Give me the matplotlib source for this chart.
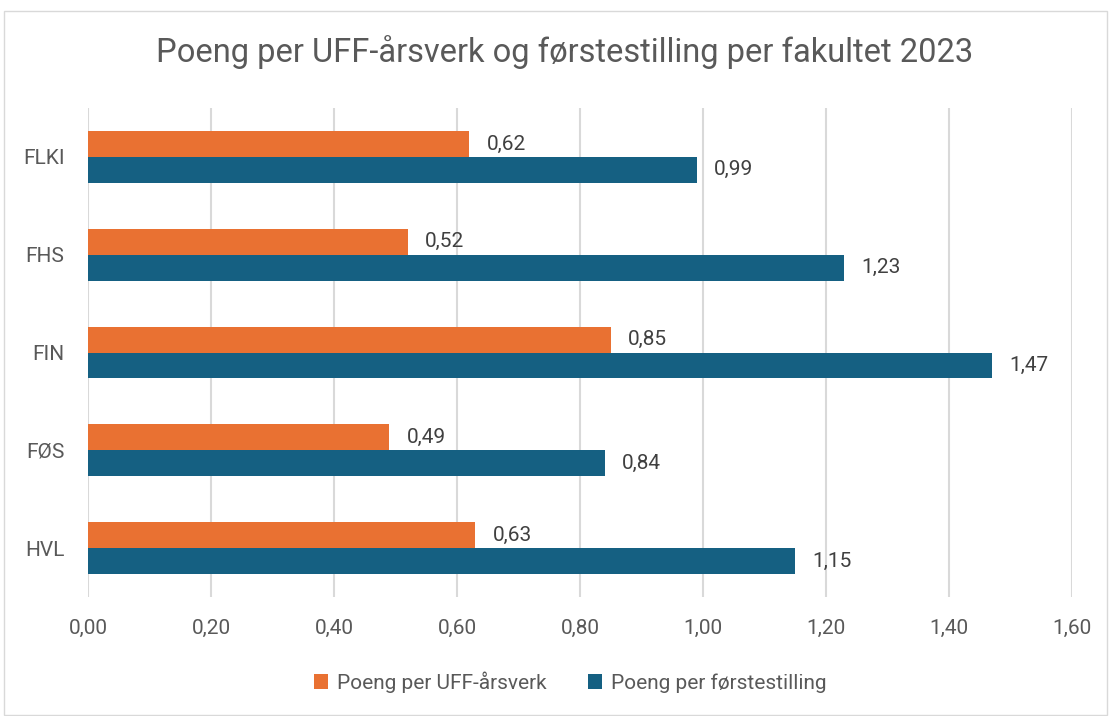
import numpy as np
import matplotlib
matplotlib.use("Agg")
from matplotlib import pyplot as plt
from matplotlib.patches import Rectangle

plt.rcParams['font.family'] = ['Roboto', 'DejaVu Sans']

# data
fakultet = ['FLKI', 'FHS', 'FIN', 'FØS', 'HVL']
uff = [0.62, 0.52, 0.85, 0.49, 0.63]
forste = [0.99, 1.23, 1.47, 0.84, 1.15]

orange = '#E97132'
blue = '#156082'
txt = '#595959'

fig = plt.figure(figsize=(11.11, 7.16), dpi=100)
ax = fig.add_axes([88/1111, 1-597/716, (1072-88)/1111, (597-108)/716])

y = np.arange(len(fakultet))
h = 0.265
ax.barh(y - h/2, uff, height=h, color=orange, label='Poeng per UFF-årsverk', zorder=3)
ax.barh(y + h/2, forste, height=h, color=blue, label='Poeng per førstestilling', zorder=3)

for i in range(len(fakultet)):
    ax.text(uff[i] + 0.028, y[i] - h/2, f'{uff[i]:.2f}'.replace('.', ','),
            va='center', ha='left', fontsize=15, color='#404040')
    ax.text(forste[i] + 0.028, y[i] + h/2, f'{forste[i]:.2f}'.replace('.', ','),
            va='center', ha='left', fontsize=15, color='#404040')

ax.set_ylim(len(fakultet) - 0.5, -0.5)
ax.set_xlim(0, 1.6)
ax.set_yticks(y)
ax.set_yticklabels(fakultet, fontsize=15, color=txt)
xt = np.arange(0, 1.61, 0.2)
ax.set_xticks(xt)
ax.set_xticklabels([f'{v:.2f}'.replace('.', ',') for v in xt], fontsize=15, color=txt)
ax.tick_params(length=0, pad=17, axis='y')
ax.tick_params(length=0, pad=16, axis='x')
ax.grid(axis='x', color='#D9D9D9', linewidth=1.5, zorder=0)
for s in ax.spines.values():
    s.set_visible(False)

fig.text(565/1111, 1-52/716, 'Poeng per UFF-årsverk og førstestilling per fakultet 2023',
         ha='center', va='center', fontsize=23.5, color=txt)

fig.legend(loc='center', bbox_to_anchor=(570/1111, 1-682/716), ncol=2, frameon=False,
           fontsize=15, labelcolor=txt, handlelength=0.7, handleheight=0.7,
           columnspacing=2.0, handletextpad=0.4)

fig.patches.append(Rectangle((4/1111, 0.002), 1-8/1111, 1-12/716, transform=fig.transFigure,
                             fill=False, edgecolor='#D9D9D9', linewidth=1))

fig.savefig('out.png', dpi=100)
